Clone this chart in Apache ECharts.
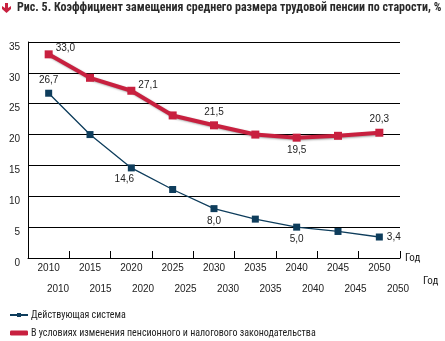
<!DOCTYPE html>
<html><head><meta charset="utf-8">
<script src="https://cdn.jsdelivr.net/npm/echarts@6/dist/echarts.min.js"></script>
<style>html,body{margin:0;padding:0;background:#fff}#c{width:445px;height:341px}</style>
</head><body><div id="c"></div>
<script>
var titleText = 'Рис. 5. Коэффициент замещения среднего размера трудовой пенсии по старости, %';
var years = ['2010','2015','2020','2025','2030','2035','2040','2045','2050'];
var seriesNames = ['Действующая система', 'В условиях изменения пенсионного и налогового законодательства'];
var currentSystem = [26.7, 20.0, 14.6, 11.1, 8.0, 6.3, 5.0, 4.3, 3.4];
var reformSystem = [33.0, 29.2, 27.1, 23.1, 21.5, 20.0, 19.5, 19.8, 20.3];
var labelledCurrent = {'2010':'top','2020':'bottomLeft','2030':'bottom','2040':'bottom','2050':'right'};
var labelledReform = {'2010':'rightTop','2020':'rightTop','2030':'top','2040':'bottom','2050':'top'};
var yTicks = [0,5,10,15,20,25,30,35];

var fmt = function(v){ return v.toFixed(1).replace('.', ','); };
var posMap = {
  top: {position:'top', distance:4},
  bottom: {position:'bottom', distance:4},
  right: {position:'right', distance:4},
  rightTop: {position:'right', distance:3, offset:[0,-6]},
  bottomLeft: {position:'bottom', distance:3, offset:[-7,0]}
};
function buildData(vals, labelled){
  return vals.map(function(v,i){
    var p = labelled[years[i]];
    var item = {value:v};
    if (p) {
      var cfg = posMap[p];
      item.label = {show:true, position:cfg.position, distance:cfg.distance, offset:cfg.offset||[0,0],
        formatter:function(){return fmt(v);}};
    }
    return item;
  });
}
var FONT = 'Liberation Sans';
var NARROW = '"Roboto Condensed", "Liberation Sans"';
var chart = echarts.init(document.getElementById('c'), null, {renderer:'canvas'});
chart.setOption({
  animation:false,
  backgroundColor:'#fff',
  graphic:[
    {type:'polygon', shape:{points:[[5,3],[8,3],[8,8],[11,6],[11,9],[6.5,13],[2,9],[2,6],[5,8]]}, style:{fill:'#c8203f'}},
    {type:'text', left:17, top:2, style:{text:titleText, font:'bold 12px ' + NARROW, fill:'#2a2a2a'}},
    {type:'text', left:423, top:276, style:{text:'Год', font:'11px ' + NARROW, fill:'#222'}}
  ],
  grid:[
    {left:28, top:42, width:372, height:216, containLabel:false},
    {left:36.75, top:42, width:382.5, height:216, containLabel:false}
  ],
  xAxis:[
    {type:'category', gridIndex:0, data:years, boundaryGap:true,
     axisLine:{lineStyle:{color:'#000', width:1}},
     axisTick:{show:true, inside:true, length:7, lineStyle:{color:'#000'}},
     axisLabel:{color:'#222', fontSize:10, fontFamily:FONT, margin:5},
     name:'Год', nameLocation:'end', nameGap:5,
     nameTextStyle:{color:'#222', fontSize:11, fontFamily:NARROW, verticalAlign:'middle'}},
    {type:'category', gridIndex:1, data:years, boundaryGap:true,
     axisLine:{show:false}, axisTick:{show:false},
     axisLabel:{color:'#222', fontSize:10, fontFamily:FONT, margin:26}}
  ],
  yAxis:[
    {type:'value', gridIndex:0, min:0, max:35, interval:5,
     axisLine:{show:true, lineStyle:{color:'#000', width:1}},
     axisTick:{show:false},
     splitLine:{show:true, lineStyle:{color:'#000', width:1}},
     axisLabel:{color:'#222', fontSize:10, fontFamily:FONT, margin:8, verticalAlign:'top',
       formatter:function(v){ return yTicks.indexOf(v) >= 0 ? String(v) : ''; }}},
    {type:'value', gridIndex:1, min:0, max:35, show:false}
  ],
  legend:{
    orient:'vertical', left:4, top:305, height:40, itemWidth:18, itemHeight:5, itemGap:8,
    textStyle:{color:'#222', fontSize:10, fontFamily:NARROW, padding:[0,0,0,-2]},
    data:[{name:seriesNames[0]}, {name:seriesNames[1], icon:'roundRect'}]
  },
  series:[
    {name:seriesNames[1], type:'line', xAxisIndex:0, yAxisIndex:0, data:buildData(reformSystem, labelledReform),
     symbol:'rect', symbolSize:8, z:3,
     lineStyle:{color:'#c8203f', width:4, shadowColor:'rgba(0,0,0,0.35)', shadowBlur:2, shadowOffsetX:1, shadowOffsetY:1},
     itemStyle:{color:'#c8203f'},
     label:{color:'#222', fontSize:10, fontFamily:FONT}},
    {name:seriesNames[0], type:'line', xAxisIndex:0, yAxisIndex:0, data:buildData(currentSystem, labelledCurrent),
     symbol:'rect', symbolSize:7, z:4,
     lineStyle:{color:'#0e3d5c', width:1.3},
     itemStyle:{color:'#0e3d5c'},
     label:{color:'#222', fontSize:10, fontFamily:FONT}}
  ]
});
</script></body></html>
